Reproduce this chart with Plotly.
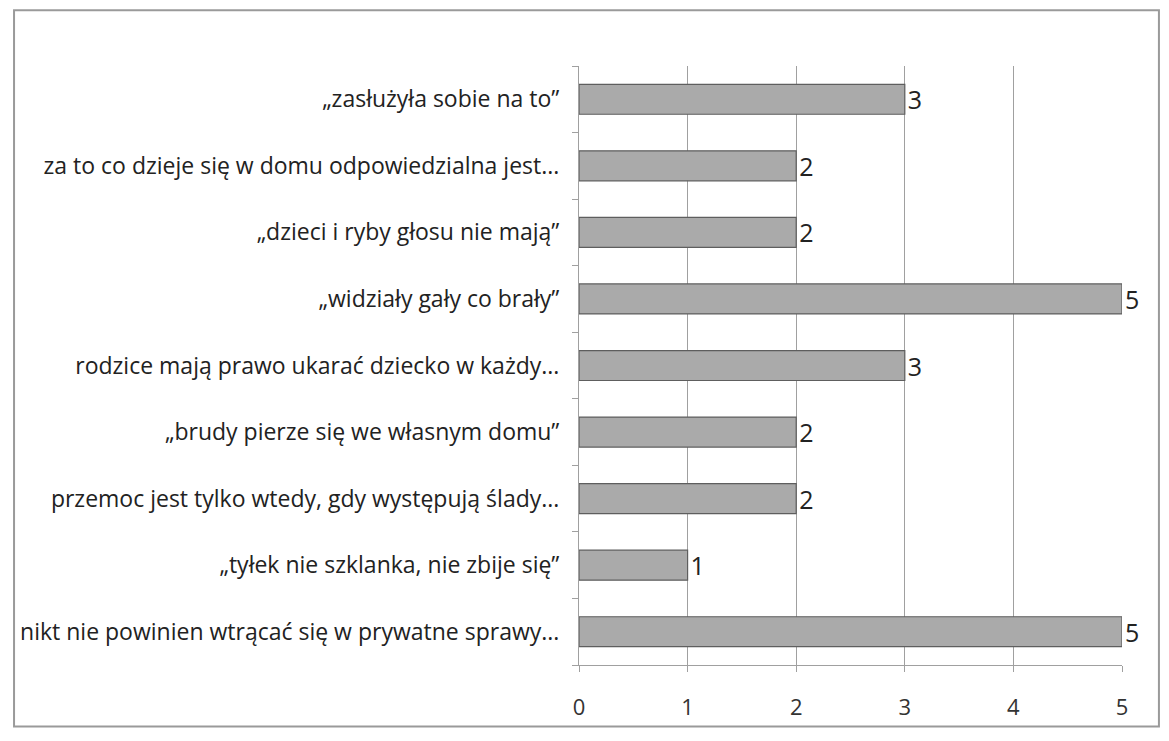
import plotly.graph_objects as go

categories = [
    "nikt nie powinien wtrącać się w prywatne sprawy...",
    "„tyłek nie szklanka, nie zbije się”",
    "przemoc jest tylko wtedy, gdy występują ślady...",
    "„brudy pierze się we własnym domu”",
    "rodzice mają prawo ukarać dziecko w każdy...",
    "„widziały gały co brały”",
    "„dzieci i ryby głosu nie mają”",
    "za to co dzieje się w domu odpowiedzialna jest...",
    "„zasłużyła sobie na to”",
]
values = [5, 1, 2, 2, 3, 5, 2, 2, 3]
x_ticks = [0, 1, 2, 3, 4, 5]

# page body has an 8px default margin
W, H = 1153, 725
L, R, T, B = 570, 39, 58, 64

fig = go.Figure(go.Bar(
    y=categories, x=values, orientation="h",
    marker=dict(color="#aaaaaa", line=dict(color="#5e5e5e", width=1.2)),
    text=[str(v) for v in values], textposition="outside", constraintext="none",
    textfont=dict(family="Open Sans", size=25, color="#222"),
    outsidetextfont=dict(family="Open Sans", size=25, color="#222"),
    cliponaxis=False,
))

pw = W - L - R
ph = H - T - B
def px_x(p):
    return (p - L) / pw
def px_y(p):
    return (H - B - p) / ph

fig.add_shape(type="rect", xref="paper", yref="paper",
              x0=px_x(4), x1=px_x(1151), y0=px_y(723), y1=px_y(2),
              line=dict(color="#9a9a9a", width=2), fillcolor="rgba(0,0,0,0)", layer="below")

fig.update_layout(
    width=W, height=H,
    margin=dict(l=L, r=R, t=T, b=B),
    paper_bgcolor="white", plot_bgcolor="white",
    bargap=0.55, showlegend=False,
    font=dict(family="Open Sans", color="#222"),
    uniformtext=dict(mode=False),
    xaxis=dict(range=[0, 5], tickvals=x_ticks, showgrid=True, gridcolor="#a0a0a0", gridwidth=1,
               showline=True, linecolor="#a0a0a0", ticks="outside", ticklen=6, tickcolor="#a0a0a0",
               ticklabelstandoff=17, tickfont=dict(size=22, color="#333"), zeroline=False),
    yaxis=dict(range=[-0.5, 8.5], showline=True, linecolor="#a0a0a0", ticks="outside",
               tickson="boundaries", ticklen=6, tickcolor="#a0a0a0", ticklabelstandoff=14,
               tickfont=dict(size=23, color="#222"), showgrid=False),
)

fig.write_html("out.html")
